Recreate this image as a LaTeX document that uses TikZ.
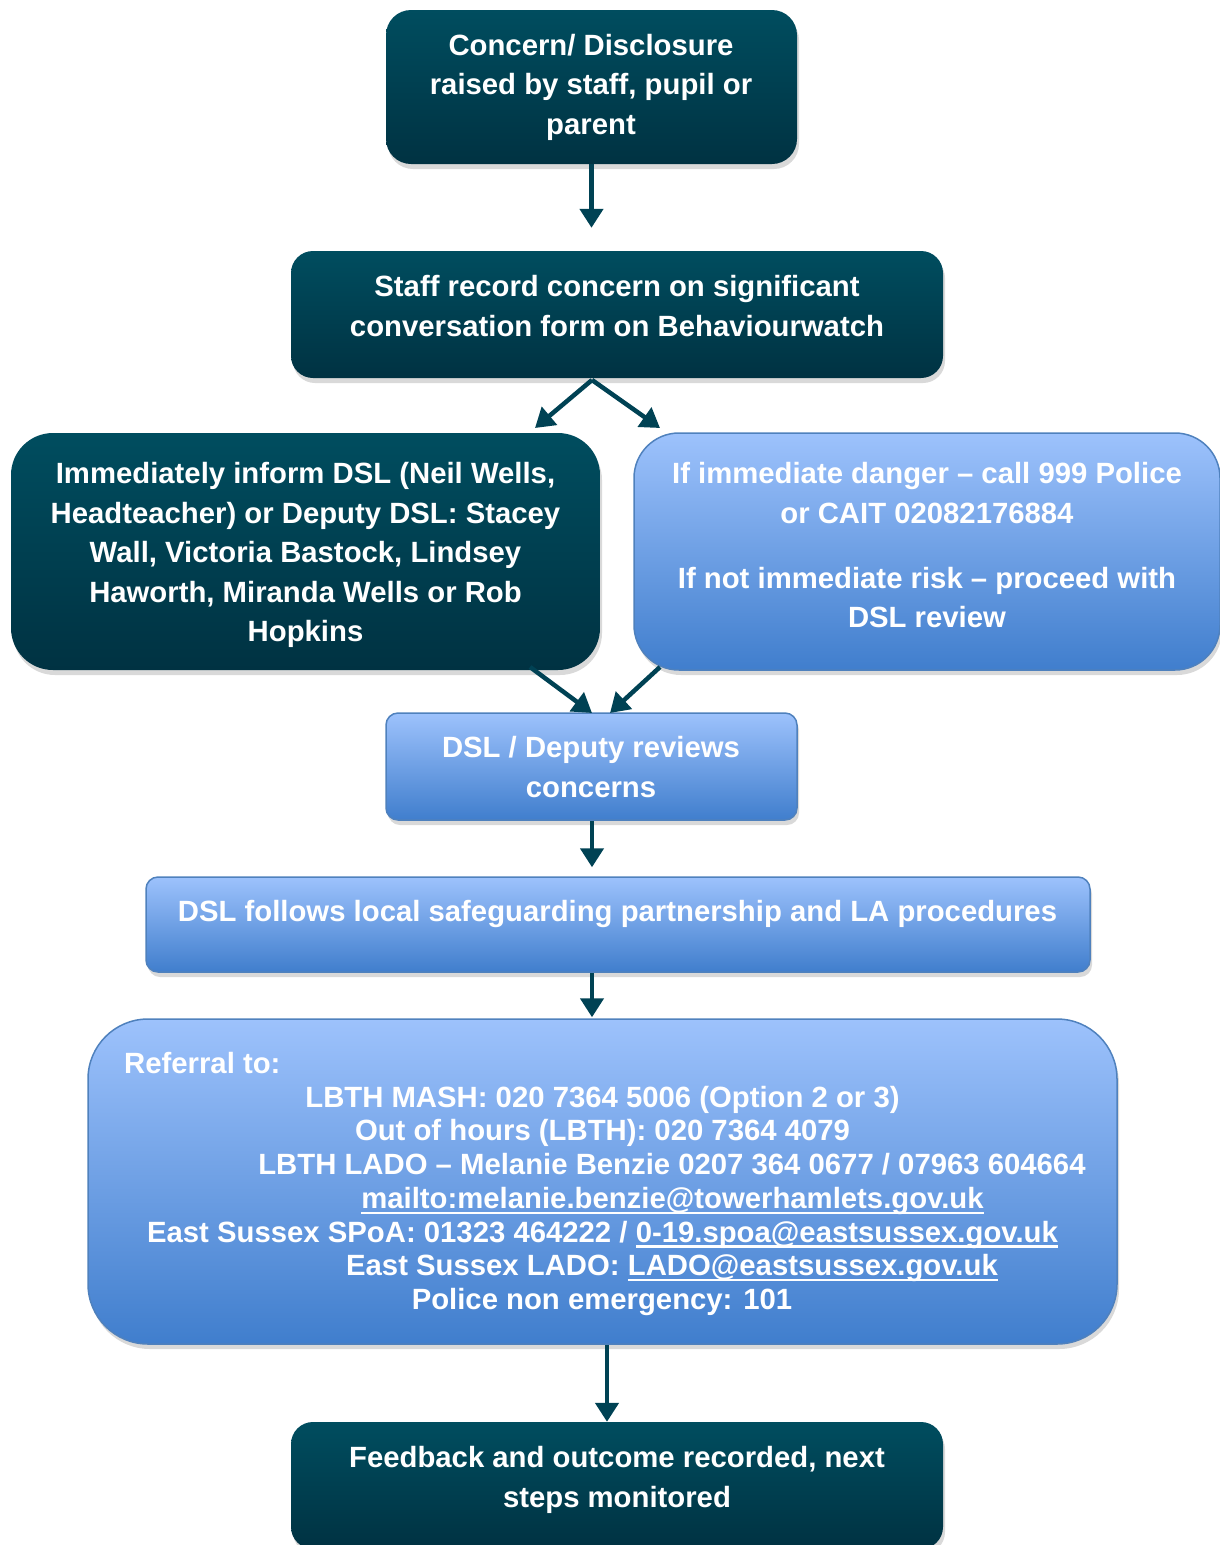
\documentclass[tikz,border=0pt]{standalone}
\usepackage{fontspec}
\setmainfont{Liberation Sans}
\usetikzlibrary{arrows.meta, shadows}
\definecolor{tealtop}{RGB}{0,77,95}
\definecolor{tealbot}{RGB}{0,50,66}
\definecolor{bluetop}{RGB}{157,194,252}
\definecolor{bluebot}{RGB}{64,126,205}
\definecolor{blueedge}{RGB}{79,129,189}
\definecolor{arrowcol}{RGB}{0,66,84}
\newcommand{\mailul}[1]{\setbox0\hbox{#1}\rlap{\rule[-5.5pt]{\wd0}{2.2pt}}\box0}

\begin{document}
\begin{tikzpicture}[x=1pt, y=-1pt,
	darkbox/.style={rounded corners=#1, top color=tealtop, bottom color=tealbot, draw=none, drop shadow={shadow xshift=2pt, shadow yshift=-5pt, opacity=0.3}},
	lightbox/.style={rounded corners=#1, top color=bluetop, bottom color=bluebot, draw=blueedge, line width=1.5pt, drop shadow={shadow xshift=2pt, shadow yshift=-5pt, opacity=0.3}},
	txt/.style={text=white, font=\bfseries\fontsize{29.3}{39.5}\selectfont, align=center, inner sep=0pt, anchor=north},
	reftxt/.style={text=white, font=\bfseries\fontsize{29.3}{33.7}\selectfont, inner sep=0pt, anchor=base},
	arr/.style={-{Triangle[length=19pt, width=23pt]}, line width=4.5pt, draw=arrowcol}]
	\useasboundingbox (0,0) rectangle (1220,1545);
	% boxes
	\node[darkbox=25, minimum width=411, minimum height=154] (concern) at (591.5,87) {};
	\node[darkbox=22, minimum width=652, minimum height=127] (record) at (617,314.5) {};
	\node[darkbox=42, minimum width=589, minimum height=237] (inform) at (305.5,551.5) {};
	\node[lightbox=45, minimum width=586, minimum height=237] (danger) at (927,551.5) {};
	\node[lightbox=12, minimum width=411, minimum height=107] (review) at (591.5,766.5) {};
	\node[lightbox=12, minimum width=944, minimum height=95] (follows) at (618,924.5) {};
	\node[lightbox=60, minimum width=1029, minimum height=325] (referral) at (602.5,1181.5) {};
	\node[darkbox=22, minimum width=652, minimum height=127] (feedback) at (617,1485.5) {};
	% texts
	\node[txt] (concerntxt) at (591,34) {Concern/ Disclosure\\raised by staff, pupil or\\parent};
	\node[txt] (recordtxt) at (617,275.5) {Staff record concern on significant\\conversation form on Behaviourwatch};
	\node[txt] (informtxt) at (305.5,462.5) {Immediately inform DSL (Neil Wells,\\Headteacher) or Deputy DSL: Stacey\\Wall, Victoria Bastock, Lindsey\\Haworth, Miranda Wells or Rob\\Hopkins};
	\node[txt] (dangertxt) at (927,462.5) {If immediate danger – call 999 Police\\or CAIT 02082176884\\[25.5pt]If not immediate risk – proceed with\\DSL review};
	\node[txt] (reviewtxt) at (591,736.5) {DSL / Deputy reviews\\concerns};
	\node[txt] (followstxt) at (617.5,900.5) {DSL follows local safeguarding partnership and LA procedures};
	\node[txt] (feedbacktxt) at (617,1446.5) {Feedback and outcome recorded, next\\steps monitored};
	\node[reftxt, anchor=base west] (r1) at (124,1073.5) {Referral to:};
	\node[reftxt] (r2) at (602.5,1107.2) {LBTH MASH: 020 7364 5006 (Option 2 or 3)};
	\node[reftxt] (r3) at (602.5,1140.9) {Out of hours (LBTH): 020 7364 4079};
	\node[reftxt] (r4) at (672,1174.6) {LBTH LADO – Melanie Benzie 0207 364 0677 / 07963 604664};
	\node[reftxt] (r5) at (672.5,1208.3) {\mailul{mailto:melanie.benzie@towerhamlets.gov.uk}};
	\node[reftxt] (r6) at (602.5,1242) {East Sussex SPoA: 01323 464222 / \mailul{0-19.spoa@eastsussex.gov.uk}};
	\node[reftxt] (r7) at (672,1275.7) {East Sussex LADO: \mailul{LADO@eastsussex.gov.uk}};
	\node[reftxt] (r8) at (602,1309.4) {Police non emergency: 101};
	% arrows
	\coordinate (split) at (592,380);
	\coordinate (tipL) at (535,428);
	\coordinate (tipR) at (660,428);
	\coordinate (fromL) at (530,667);
	\coordinate (fromR) at (660,667);
	\coordinate (meet) at (601,713);
	\draw[arr, shorten >=23pt] (concern.south) -- (concern.south |- record.north);
	\draw[arr] (split) -- (tipL);
	\draw[arr] (split) -- (tipR);
	\draw[arr] (fromL) -- ([xshift=-9pt]meet);
	\draw[arr] (fromR) -- ([xshift=9pt]meet);
	\draw[arr, shorten >=9pt] ([xshift=0.5pt]review.south) -- ([xshift=0.5pt]review.south |- follows.north);
	\draw[arr, shorten >=1pt] ([xshift=0.5pt]review.south |- follows.south) -- ([xshift=0.5pt]review.south |- referral.north);
	\draw[arr] ([xshift=4.5pt]referral.south) -- ([xshift=4.5pt]referral.south |- feedback.north);
\end{tikzpicture}
\end{document}
